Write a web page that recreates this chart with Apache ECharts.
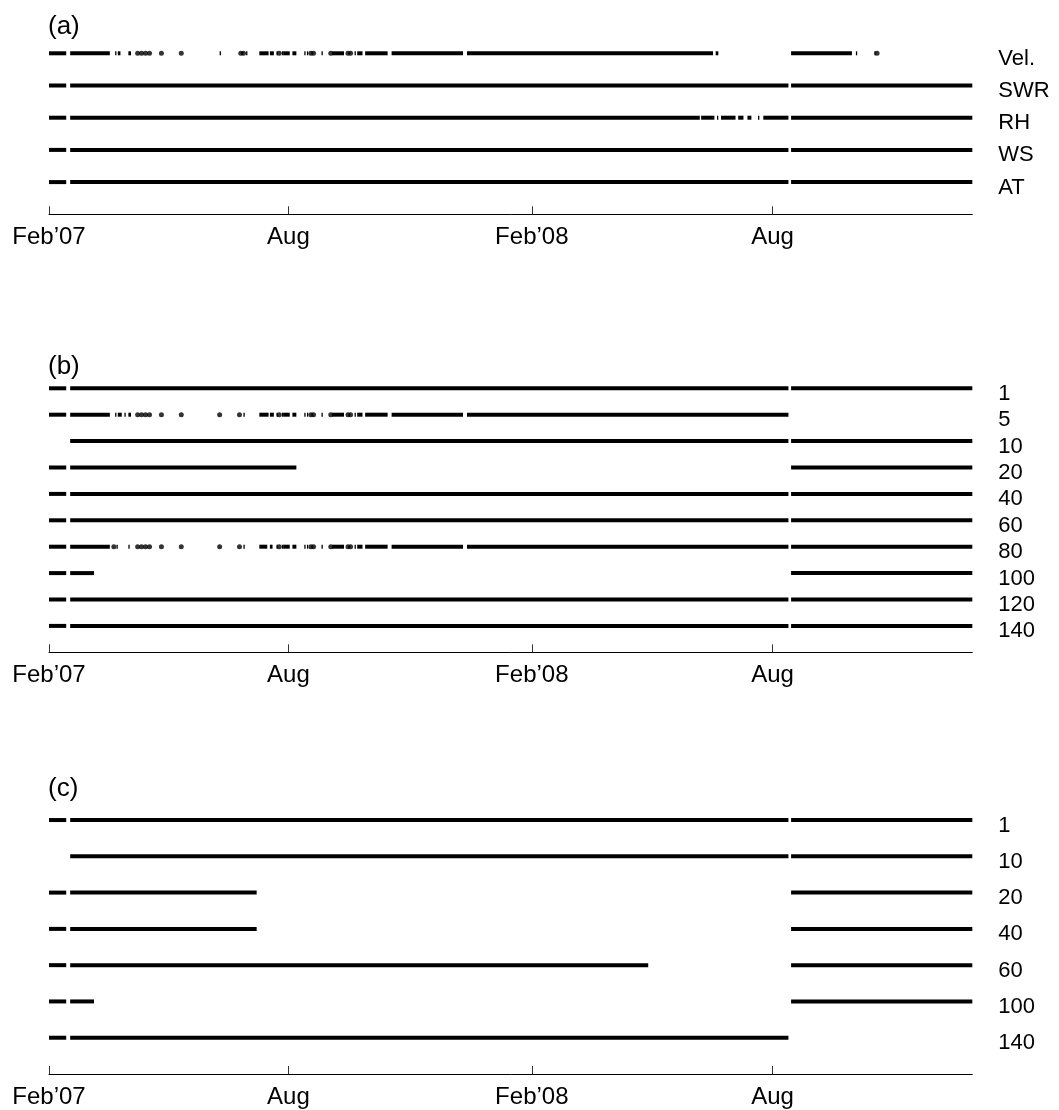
<!DOCTYPE html>
<html>
<head>
<meta charset="utf-8">
<script src="https://cdn.jsdelivr.net/npm/echarts@6/dist/echarts.min.js"></script>
<style>
html,body{margin:0;padding:0;background:#fff;}
#chart{width:1059px;height:1110px;}
</style>
</head>
<body>
<div id="chart"></div>
<script>
// ---------------- data ----------------
const axisStart = '2007-02-01';
const axisEnd = '2008-12-30';
const tickDates = ['2007-02-01', '2007-08-01', '2008-02-01', '2008-08-01'];
const tickLabels = ['Feb\u201907', 'Aug', 'Feb\u201908', 'Aug'];

// Panel (a): meteorological / velocity records (top to bottom)
const panelA_names = ['Vel.', 'SWR', 'RH', 'WS', 'AT'];
const velSegments = [
  ['2007-02-01','2007-02-14'],['2007-02-17','2007-03-19'],
  ['2007-03-23','2007-03-23'],['2007-03-25','2007-03-27'],['2007-04-02','2007-04-04'],
  ['2007-06-10','2007-06-10'],['2007-06-30','2007-06-30'],
  ['2007-07-10','2007-07-17'],['2007-07-18','2007-07-21'],['2007-07-23','2007-07-23'],['2007-07-27','2007-07-27'],
  ['2007-07-28','2007-08-02'],['2007-08-04','2007-08-07'],['2007-08-13','2007-08-13'],['2007-08-15','2007-08-15'],
  ['2007-08-26','2007-08-26'],['2007-09-03','2007-09-12'],['2007-09-20','2007-09-20'],['2007-09-22','2007-09-26'],
  ['2007-09-28','2007-10-15'],['2007-10-18','2007-12-11'],['2007-12-14','2008-06-17'],['2008-06-19','2008-06-21'],
  ['2008-08-15','2008-09-30'],['2008-10-03','2008-10-03'],['2008-10-17','2008-10-17']
];
const velDots = ['2007-04-09','2007-04-12','2007-04-15','2007-04-18','2007-04-27','2007-05-12',
  '2007-06-26','2007-06-28','2007-07-25','2007-08-18','2007-08-20','2007-09-02','2007-09-15','2007-09-17','2008-10-19'];
const swrSegments = [['2007-02-01','2007-02-14'],['2007-02-17','2008-08-13'],['2008-08-15','2008-12-30']];
const rhSegments = [
  ['2007-02-01','2007-02-14'],['2007-02-17','2008-06-07'],['2008-06-08','2008-06-18'],['2008-06-20','2008-06-20'],
  ['2008-06-23','2008-07-04'],['2008-07-06','2008-07-10'],['2008-07-13','2008-07-16'],['2008-07-21','2008-07-22'],
  ['2008-07-25','2008-08-13'],['2008-08-15','2008-12-30']
];
const wsSegments = [['2007-02-01','2007-02-14'],['2007-02-17','2008-08-13'],['2008-08-15','2008-12-30']];
const atSegments = [['2007-02-01','2007-02-14'],['2007-02-17','2008-08-13'],['2008-08-15','2008-12-30']];

// Panel (b): depths (m), top to bottom
const panelB_names = ['1', '5', '10', '20', '40', '60', '80', '100', '120', '140'];
const b1Segments = [['2007-02-01','2007-02-14'],['2007-02-17','2008-08-13'],['2008-08-15','2008-12-30']];
const b5Segments = [
  ['2007-02-01','2007-02-14'],['2007-02-17','2007-03-19'],
  ['2007-03-23','2007-03-23'],['2007-03-25','2007-03-28'],['2007-03-30','2007-03-30'],['2007-04-02','2007-04-04'],
  ['2007-06-28','2007-06-28'],
  ['2007-07-10','2007-07-17'],['2007-07-18','2007-07-21'],['2007-07-23','2007-07-23'],['2007-07-27','2007-07-27'],
  ['2007-07-28','2007-08-02'],['2007-08-04','2007-08-07'],['2007-08-13','2007-08-13'],['2007-08-15','2007-08-15'],
  ['2007-08-26','2007-08-26'],['2007-09-03','2007-09-12'],['2007-09-20','2007-09-20'],['2007-09-22','2007-09-26'],
  ['2007-09-28','2007-10-15'],['2007-10-18','2007-12-11'],['2007-12-14','2008-08-13']
];
const b5Dots = ['2007-04-09','2007-04-12','2007-04-15','2007-04-18','2007-04-27','2007-05-12','2007-06-10',
  '2007-06-25','2007-07-25','2007-08-18','2007-08-20','2007-09-02','2007-09-15','2007-09-17'];
const b10Segments = [['2007-02-17','2008-08-13'],['2008-08-15','2008-12-30']];
const b20Segments = [['2007-02-01','2007-02-14'],['2007-02-17','2007-08-07'],['2008-08-15','2008-12-30']];
const b40Segments = [['2007-02-01','2007-02-14'],['2007-02-17','2008-08-13'],['2008-08-15','2008-12-30']];
const b60Segments = [['2007-02-01','2007-02-14'],['2007-02-17','2008-08-13'],['2008-08-15','2008-12-30']];
const b80Segments = [
  ['2007-02-01','2007-02-14'],['2007-02-17','2007-03-19'],
  ['2007-03-24','2007-03-24'],['2007-04-02','2007-04-02'],
  ['2007-06-28','2007-06-28'],
  ['2007-07-10','2007-07-16'],['2007-07-18','2007-07-20'],['2007-07-23','2007-07-23'],['2007-07-27','2007-07-27'],
  ['2007-07-28','2007-08-02'],['2007-08-04','2007-08-07'],['2007-08-13','2007-08-13'],['2007-08-15','2007-08-15'],
  ['2007-08-26','2007-08-26'],['2007-09-03','2007-09-12'],['2007-09-20','2007-09-20'],['2007-09-22','2007-09-26'],
  ['2007-09-28','2007-10-15'],['2007-10-18','2007-12-11'],['2007-12-14','2008-08-13'],['2008-08-15','2008-12-30']
];
const b80Dots = ['2007-03-22','2007-04-09','2007-04-12','2007-04-15','2007-04-18','2007-04-27','2007-05-12','2007-06-10',
  '2007-06-25','2007-07-25','2007-08-18','2007-08-20','2007-09-02','2007-09-15','2007-09-17'];
const b100Segments = [['2007-02-01','2007-02-14'],['2007-02-17','2007-03-07'],['2008-08-15','2008-12-30']];
const b120Segments = [['2007-02-01','2007-02-14'],['2007-02-17','2008-08-13'],['2008-08-15','2008-12-30']];
const b140Segments = [['2007-02-01','2007-02-14'],['2007-02-17','2008-08-13'],['2008-08-15','2008-12-30']];

// Panel (c): depths (m), top to bottom
const panelC_names = ['1', '10', '20', '40', '60', '100', '140'];
const c1Segments = [['2007-02-01','2007-02-14'],['2007-02-17','2008-08-13'],['2008-08-15','2008-12-30']];
const c10Segments = [['2007-02-17','2008-08-13'],['2008-08-15','2008-12-30']];
const c20Segments = [['2007-02-01','2007-02-14'],['2007-02-17','2007-07-08'],['2008-08-15','2008-12-30']];
const c40Segments = [['2007-02-01','2007-02-14'],['2007-02-17','2007-07-08'],['2008-08-15','2008-12-30']];
const c60Segments = [['2007-02-01','2007-02-14'],['2007-02-17','2008-04-29'],['2008-08-15','2008-12-30']];
const c100Segments = [['2007-02-01','2007-02-14'],['2007-02-17','2007-03-07'],['2008-08-15','2008-12-30']];
const c140Segments = [['2007-02-01','2007-02-14'],['2007-02-17','2008-08-13']];

// ---------------- build ----------------
const FONT = "'Liberation Sans', Arial, Helvetica, sans-serif";
const ts = s => { const p = s.split('-').map(Number); return Date.UTC(p[0], p[1] - 1, p[2]); };
const tickTs = tickDates.map(ts);

const panels = [
  { title: '(a)', names: panelA_names,
    segs: [velSegments, swrSegments, rhSegments, wsSegments, atSegments],
    dots: [velDots, [], [], [], []],
    top: 37.2, height: 177.1, titleTop: 14 },
  { title: '(b)', names: panelB_names,
    segs: [b1Segments, b5Segments, b10Segments, b20Segments, b40Segments, b60Segments, b80Segments, b100Segments, b120Segments, b140Segments],
    dots: [[], b5Dots, [], [], [], [], b80Dots, [], [], []],
    top: 375.1, height: 277.2, titleTop: 354 },
  { title: '(c)', names: panelC_names,
    segs: [c1Segments, c10Segments, c20Segments, c40Segments, c60Segments, c100Segments, c140Segments],
    dots: [[], [], [], [], [], [], []],
    top: 801.9, height: 272.1, titleTop: 776 }
];

function renderSeg(params, api) {
  const y = api.value(2);
  const p1 = api.coord([api.value(0), y]);
  const p2 = api.coord([api.value(1), y]);
  const h = 4;
  return {
    type: 'rect',
    shape: { x: p1[0], y: p1[1] - h / 2, width: Math.max(p2[0] - p1[0], 1.3), height: h },
    style: { fill: '#000' }
  };
}

const grid = [], xAxis = [], yAxis = [], series = [], title = [];
panels.forEach((p, i) => {
  const n = p.names.length;
  grid.push({ left: 49, right: 86.7, top: p.top, height: p.height });
  title.push({ text: p.title, left: 48, top: p.titleTop, padding: 0,
    textStyle: { fontSize: 26, fontWeight: 'normal', color: '#000', fontFamily: FONT } });
  xAxis.push({
    type: 'value', gridIndex: i, min: ts(axisStart), max: ts(axisEnd),
    splitLine: { show: false },
    axisLine: { show: true, lineStyle: { color: '#000', width: 1 } },
    axisTick: { show: true, inside: true, length: 8, customValues: tickTs, lineStyle: { color: '#333', width: 1 } },
    axisLabel: { show: true, customValues: tickTs, margin: 11, fontSize: 24, color: '#000', fontFamily: FONT,
      showMinLabel: true, showMaxLabel: true,
      formatter: v => { const k = tickTs.indexOf(v); return k >= 0 ? tickLabels[k] : ''; } }
  });
  const rowVals = p.names.map((_, r) => n - r);
  yAxis.push({
    type: 'value', gridIndex: i, position: 'right', min: 0, max: n + 0.5,
    splitLine: { show: false }, axisLine: { show: false }, axisTick: { show: false },
    axisLabel: { show: true, customValues: rowVals, margin: 26, fontSize: 22, lineHeight: 11,
      verticalAlign: 'top', showMinLabel: true, showMaxLabel: true,
      color: '#000', fontFamily: FONT, align: 'left',
      formatter: v => { const r = n - Math.round(v); return (r >= 0 && r < n) ? p.names[r] : ''; } }
  });
  const segData = [], dotData = [];
  p.segs.forEach((rowSegs, r) => rowSegs.forEach(s => segData.push([ts(s[0]), ts(s[1]), n - r])));
  p.dots.forEach((rowDots, r) => rowDots.forEach(d => dotData.push([ts(d), n - r])));
  series.push({ type: 'custom', xAxisIndex: i, yAxisIndex: i, renderItem: renderSeg,
    data: segData, encode: { x: [0, 1], y: 2 }, silent: true });
  series.push({ type: 'scatter', xAxisIndex: i, yAxisIndex: i, data: dotData,
    symbol: 'circle', symbolSize: 5, itemStyle: { color: '#000' }, silent: true });
});

const chart = echarts.init(document.getElementById('chart'), null, { renderer: 'canvas' });
chart.setOption({
  animation: false,
  backgroundColor: '#fff',
  title, grid, xAxis, yAxis, series
});
</script>
</body>
</html>
